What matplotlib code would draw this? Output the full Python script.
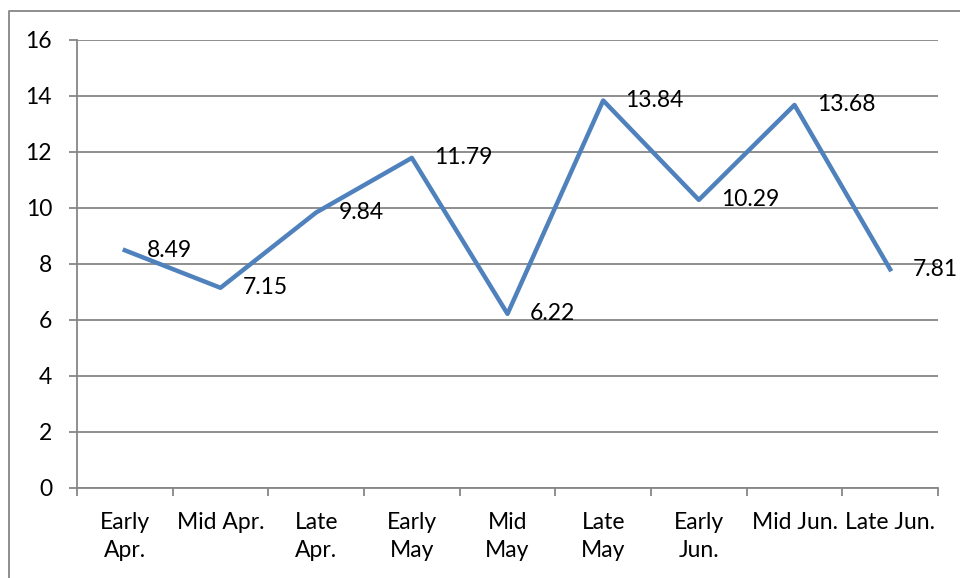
import matplotlib
matplotlib.use("Agg")
from matplotlib import pyplot as plt
from matplotlib.lines import Line2D

categories = ["Early\nApr.", "Mid Apr.", "Late\nApr.", "Early\nMay", "Mid\nMay",
              "Late\nMay", "Early\nJun.", "Mid Jun.", "Late Jun."]
values = [8.49, 7.15, 9.84, 11.79, 6.22, 13.84, 10.29, 13.68, 7.81]
value_labels = ["8.49", "7.15", "9.84", "11.79", "6.22", "13.84", "10.29", "13.68", "7.81"]
y_ticks = [0, 2, 4, 6, 8, 10, 12, 14, 16]

plt.rcParams['font.family'] = ['Lato', 'DejaVu Sans']

grey = '#868686'
fs = 16.5
fig = plt.figure(figsize=(9.6, 5.78), dpi=100)
ax = fig.add_axes([77 / 960, 90 / 578, 861 / 960, 448 / 578])

xs = list(range(len(values)))
ax.plot(xs, values, color='#4F81BD', lw=3.2, solid_joinstyle='round', clip_on=False)

for x, v, t in zip(xs, values, value_labels):
    ax.annotate(t, (x, v), xytext=(16, 0), textcoords='offset points',
                ha='left', va='center', fontsize=fs, color='black')

ax.set_xlim(-0.5, len(values) - 0.5)
ax.set_ylim(0, 16)
ax.set_yticks(y_ticks)
ax.set_yticklabels([str(t) for t in y_ticks], fontsize=fs)
ax.yaxis.grid(True, color=grey, lw=1.3)
ax.set_axisbelow(True)

# category boundaries get the tick marks, centres get the labels
ax.set_xticks([i - 0.5 for i in range(len(values) + 1)])
ax.set_xticklabels([])
ax.set_xticks(xs, minor=True)
ax.set_xticklabels(categories, minor=True, fontsize=fs, linespacing=1.45)
ax.tick_params(axis='x', which='major', length=6, width=1.3, color=grey, direction='out')
ax.tick_params(axis='x', which='minor', length=0, pad=17)
ax.tick_params(axis='y', length=6, width=1.3, color=grey, pad=12)

for s in ['top', 'right']:
    ax.spines[s].set_visible(False)
for s in ['left', 'bottom']:
    ax.spines[s].set_color(grey)
    ax.spines[s].set_linewidth(1.3)

# chart frame (left and top edges visible)
bx = 8.5 / 960
by = 1 - 11 / 578
fig.add_artist(Line2D([bx, bx, 1], [0, by, by], transform=fig.transFigure,
                      color=grey, lw=1.3))

fig.savefig('out.png', dpi=100)
